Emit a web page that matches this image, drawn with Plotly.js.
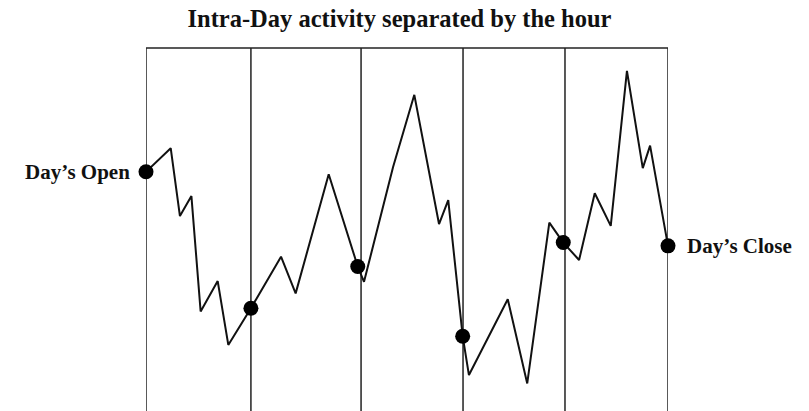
<!DOCTYPE html>
<html>
<head>
<meta charset="utf-8">
<script src="https://cdn.plot.ly/plotly-3.0.1.min.js"></script>
<style>html,body{margin:0;padding:0;background:#fff;}#chart{width:809px;height:411px;}</style>
</head>
<body>
<div id="chart"></div>
<script>
// Time in minutes since the open, price on an arbitrary 0-100 scale
const minutes = [0, 14.2, 19.5, 26.1, 31.4, 41.2, 47.3, 60.3, 77.6, 86.0, 105.0, 121.7, 125.3, 142.0, 154.2, 168.4, 173.7, 182.0, 185.6, 207.9, 219.1, 231.8, 239.8, 248.9, 257.9, 267.1, 276.4, 285.5, 289.7, 300];
const prices  = [65.9, 72.4, 53.7, 59.2, 27.4, 35.8, 18.2, 28.3, 42.5, 32.4, 65.2, 39.8, 35.6, 67.2, 87.1, 51.5, 58.1, 20.6, 9.9, 30.8, 7.6, 51.9, 46.4, 41.6, 60.0, 51.0, 93.7, 66.9, 73.1, 45.5];

// Hourly marker points
const hourDotMinutes = [0, 60.3, 121.7, 182.0, 239.8, 300];
const hourDotPrices  = [65.9, 28.3, 39.8, 20.6, 46.4, 45.5];

// Hour separator lines
const hourMarks = [0, 60.3, 123.6, 182.2, 240.8, 300];

const titleText = "Intra-Day activity separated by the hour";
const openLabel = "Day’s Open";
const closeLabel = "Day’s Close";

const lineTrace = {
  x: minutes, y: prices, type: 'scatter', mode: 'lines',
  line: {color: '#111', width: 2}, hoverinfo: 'skip', cliponaxis: false
};
const dotTrace = {
  x: hourDotMinutes, y: hourDotPrices, type: 'scatter', mode: 'markers',
  marker: {color: '#000', size: 15}, hoverinfo: 'skip', cliponaxis: false
};

const shapes = hourMarks.map(h => ({
  type: 'line', xref: 'x', yref: 'paper', x0: h, x1: h, y0: 0, y1: 1,
  line: {color: '#222', width: 1.5}, layer: 'below'
}));
shapes.push({
  type: 'line', xref: 'x', yref: 'paper', x0: hourMarks[0], x1: hourMarks[hourMarks.length - 1], y0: 1, y1: 1,
  line: {color: '#222', width: 1.5}, layer: 'below'
});

const labelFont = {family: 'Liberation Serif, Times New Roman, serif', size: 21, color: '#111', weight: 'bold'};

const layout = {
  width: 809, height: 411,
  margin: {l: 146, r: 141, t: 48, b: 0},
  paper_bgcolor: '#fff', plot_bgcolor: '#fff',
  showlegend: false, hovermode: false,
  title: {
    text: titleText,
    font: {family: 'Liberation Serif, Times New Roman, serif', size: 24.5, color: '#111', weight: 'bold'},
    x: 0.4938, xanchor: 'center', y: 0.955, yanchor: 'middle'
  },
  xaxis: {range: [0, 300], visible: false, fixedrange: true},
  yaxis: {range: [0, 100], visible: false, fixedrange: true},
  shapes: shapes,
  annotations: [
    {x: hourDotMinutes[0], y: hourDotPrices[0], xref: 'x', yref: 'y', text: openLabel, showarrow: false,
     xanchor: 'right', yanchor: 'middle', xshift: -14, font: labelFont},
    {x: hourDotMinutes[hourDotMinutes.length - 1], y: hourDotPrices[hourDotPrices.length - 1], xref: 'x', yref: 'y', text: closeLabel, showarrow: false,
     xanchor: 'left', yanchor: 'middle', xshift: 17, font: labelFont}
  ]
};

Plotly.newPlot('chart', [lineTrace, dotTrace], layout, {displayModeBar: false, staticPlot: true});
</script>
</body>
</html>
